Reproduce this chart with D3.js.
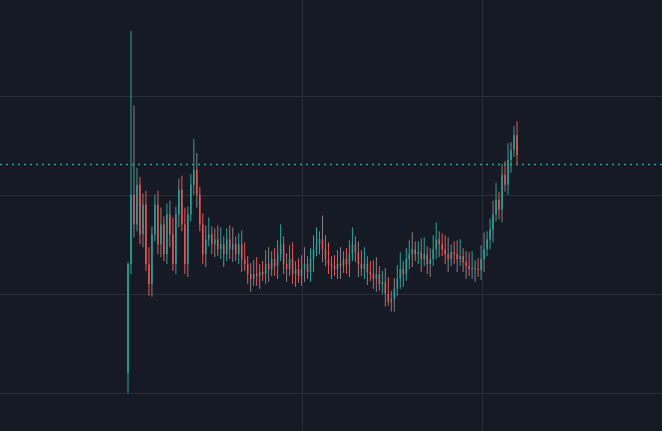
<!DOCTYPE html>
<html><head><meta charset="utf-8">
<script src="https://cdn.jsdelivr.net/npm/d3@7"></script>
<style>body{margin:0;background:#161a25;}svg{display:block}</style>
</head><body>
<svg id="c" width="662" height="431"></svg>
<script>
const closes = [2.3,3.0,2.7,3.1,2.6,2.9,2.3,2.1,2.6,2.9,2.5,2.7,2.4,2.8,2.6,2.3,2.8,3.05,2.7,2.3,2.8,3.1,3.25,3.0,2.7,2.4,2.55,2.6,2.5,2.55,2.45,2.5,2.4,2.55,2.45,2.5,2.4,2.5,2.35,2.3,2.2,2.15,2.2,2.18,2.22,2.2,2.3,2.25,2.35,2.28,2.4,2.5,2.3,2.25,2.35,2.2,2.25,2.18,2.25,2.3,2.22,2.35,2.45,2.5,2.55,2.45,2.35,2.3,2.28,2.25,2.3,2.28,2.35,2.3,2.4,2.5,2.42,2.3,2.25,2.3,2.22,2.2,2.15,2.2,2.1,2.12,2.0,1.92,1.95,2.05,2.15,2.25,2.2,2.35,2.4,2.45,2.4,2.42,2.35,2.4,2.3,2.35,2.45,2.55,2.5,2.45,2.4,2.35,2.42,2.4,2.35,2.38,2.32,2.28,2.25,2.26,2.25,2.24,2.35,2.45,2.55,2.65,2.8,2.95,2.85,3.2,3.1,3.35,3.45,3.6,3.4];
const firstOpen = 1.2;
const highOverrides = {0:2.32,1:4.65,2:3.9,9:3.0,22:3.56,51:2.7,65:2.79,129:3.69};
const lowOverrides = {0:1.0,7:1.98,87:1.88};
const gridValues = [1,2,3,4];
const lastLine = 3.31;

const W=662,H=431;
const svg=d3.select("#c");
svg.append("rect").attr("width",W).attr("height",H).attr("fill","#161a25");
const y=d3.scaleLinear().domain([1,4]).range([393,95.5]);
const x=d3.scaleLinear().domain([0,closes.length-1]).range([128,517]);
const data=closes.map((c,i)=>{const o=i?closes[i-1]:firstOpen;
 return {i,o,c,h:highOverrides[i]??Math.max(o,c)+0.08+(i%4)*0.03,l:lowOverrides[i]??Math.min(o,c)-0.07-(i%3)*0.03};});
const g=svg.append("g");
gridValues.forEach(v=>g.append("line").attr("x1",0).attr("x2",W).attr("y1",Math.round(y(v))+.5).attr("y2",Math.round(y(v))+.5).attr("stroke","#2a2e39"));
[302,482].forEach(px=>g.append("line").attr("x1",px+.5).attr("x2",px+.5).attr("y1",0).attr("y2",H).attr("stroke","#2a2e39"));
const col=d=>d.c>=d.o?"#26a69a":"#ef5350";
svg.selectAll(".w").data(data).join("line").attr("x1",d=>x(d.i)).attr("x2",d=>x(d.i))
 .attr("y1",d=>y(d.h)).attr("y2",d=>y(d.l)).attr("stroke",d=>d.i%3==2?"#8a7f80":col(d)).attr("stroke-width",1);
svg.selectAll(".b").data(data).join("rect").attr("x",d=>x(d.i)-0.75).attr("width",1.5)
 .attr("y",d=>y(Math.max(d.o,d.c))).attr("height",d=>Math.max(1,Math.abs(y(d.o)-y(d.c)))).attr("fill",col);
svg.append("line").attr("x1",0).attr("x2",W).attr("y1",Math.round(y(lastLine))+.5).attr("y2",Math.round(y(lastLine))+.5)
 .attr("stroke","#26a69a").attr("stroke-width",1.5).attr("stroke-dasharray","2,4");
</script></body></html>
